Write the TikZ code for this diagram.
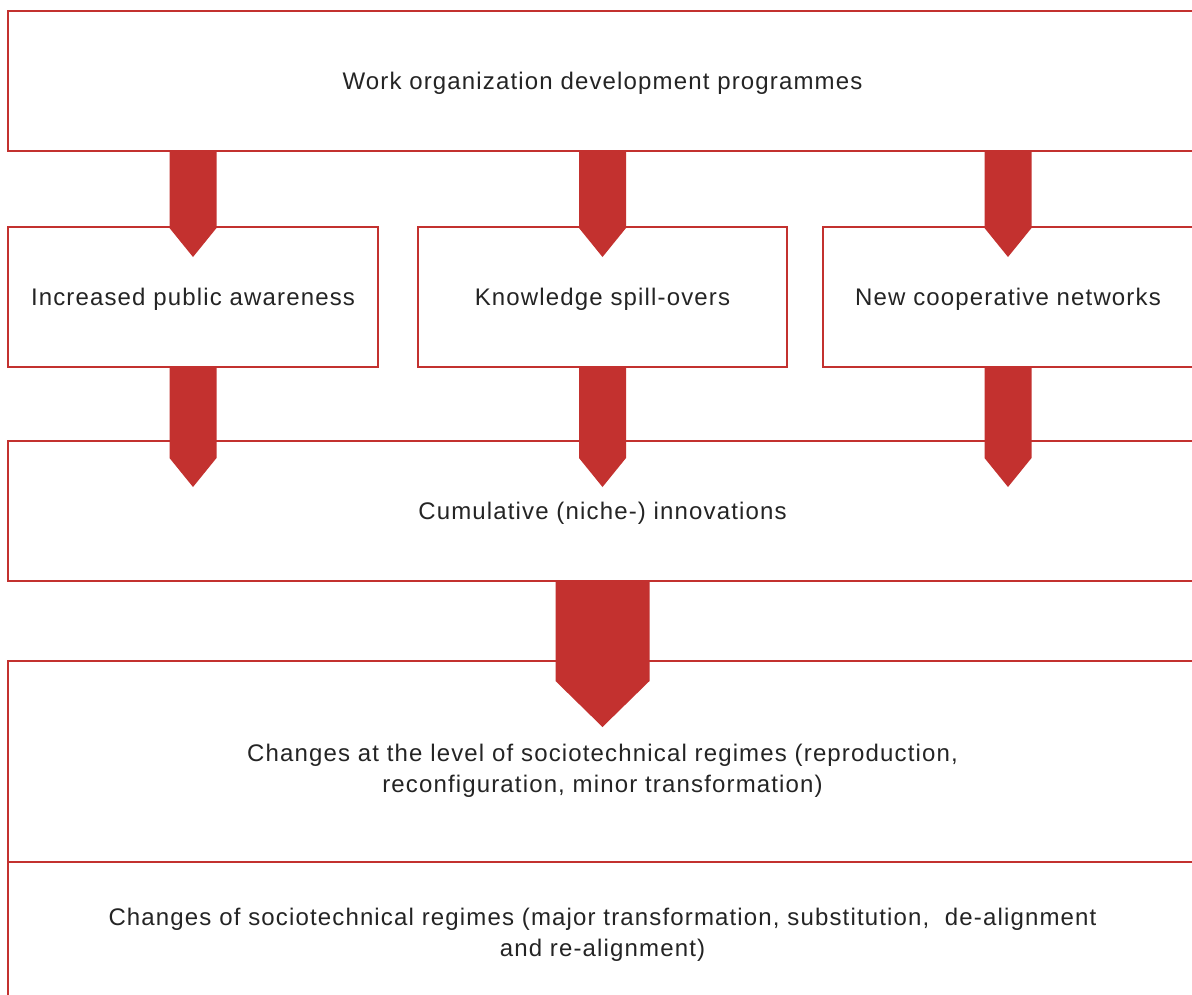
\documentclass[tikz,border=0pt]{standalone}
\usepackage{fontspec}
\setmainfont{Liberation Sans}[LetterSpace=4.8]
\usetikzlibrary{calc}
\definecolor{flowred}{RGB}{195,49,47}
\definecolor{inkgrey}{RGB}{36,36,36}
\tikzset{
  label text/.style={text=inkgrey, align=center, text depth=0pt,
    font=\fontsize{24}{31}\selectfont},
  box/.style={draw=flowred, line width=2.4pt, rectangle, inner sep=0pt, outer sep=0pt,
    label text},
}
% block arrow from the lower edge of #1 into the top of #2, in the column of node #3
% #4 half width, #5 shoulder depth below the top of #2, #6 tip depth below it
\newcommand\flowarrow[6]{%
  \path (#1.south -| #3.center) coordinate (fa-s)
        (#2.north -| #3.center) coordinate (fa-t);
  \fill[flowred] ($(fa-s)+(-#4,0)$) -- ($(fa-t)+(-#4,#5)$) -- ($(fa-t)+(0,#6)$)
    -- ($(fa-t)+(#4,#5)$) -- ($(fa-s)+(#4,0)$) -- cycle;}
\begin{document}
\begin{tikzpicture}[x=1pt,y=-1pt]
\useasboundingbox (0,0) rectangle (1192,994);
\clip (0,0) rectangle (1192,994);
\fill[white] (0,0) rectangle (1192,994);

\node[box, minimum width=1189pt, minimum height=140pt] (prog) at (602.5,81)
  {Work organization development programmes};

\node[box, minimum width=370pt, minimum height=140pt] (aware) at (193,297)
  {Increased public awareness};
\node[box, minimum width=369pt, minimum height=140pt] (spill) at (602.5,297)
  {Knowledge spill-overs};
\node[box, minimum width=370pt, minimum height=140pt] (net) at (1008,297)
  {New cooperative networks};

\node[box, minimum width=1189pt, minimum height=140pt] (cum) at (602.5,511)
  {Cumulative (niche-) innovations};

\node[box, minimum width=1189pt, minimum height=201pt] (level) at (602.5,761.5) {};
\node[label text] (leveltxt) at (602.5,768)
  {Changes at the level of sociotechnical regimes (reproduction,\\reconfiguration, minor transformation)};

\node[box, minimum width=1189pt, minimum height=140pt] (regime) at (602.5,932)
  {Changes of sociotechnical regimes (major transformation, substitution,~ de-alignment\\and re-alignment)};

\flowarrow{prog}{aware}{aware}{23.5}{1}{30}
\flowarrow{prog}{spill}{spill}{23.5}{1}{30}
\flowarrow{prog}{net}{net}{23.5}{1}{30}

\flowarrow{aware}{cum}{aware}{23.5}{17}{46}
\flowarrow{spill}{cum}{spill}{23.5}{17}{46}
\flowarrow{net}{cum}{net}{23.5}{17}{46}

\flowarrow{cum}{level}{cum}{47}{20}{66}
\end{tikzpicture}
\end{document}
